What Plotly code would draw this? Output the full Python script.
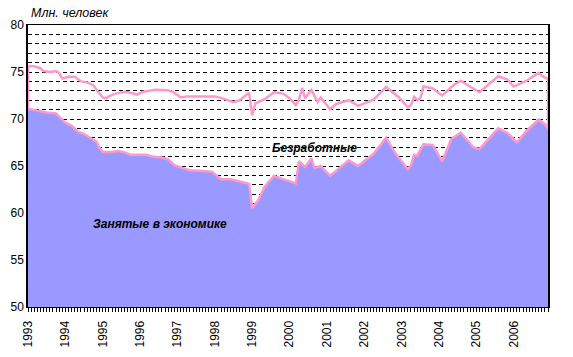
import plotly.graph_objects as go

# Month index: 0 = Jan 1993 ... 167 = Dec 2006
year_labels = [str(y) for y in range(1993, 2007)]

# Employed in the economy (mln people): month index / value at read vertices
employed_month = [0, 2, 4, 6, 9, 10, 12, 14, 16, 18, 20, 22, 23, 24, 27, 29, 31, 33, 38, 40,
                  43, 45, 47, 50, 52, 55, 59, 62, 65, 67, 70, 71, 72, 74, 76, 79, 82, 86, 87, 89,
                  91, 92, 94, 97, 99, 103, 106, 111, 115, 118, 122, 123, 124, 125, 127, 130, 133,
                  136, 139, 143, 145, 151, 154, 157, 160, 164, 166, 167]
employed_value = [71.1, 70.95, 70.8, 70.7, 70.6, 70.3, 69.6, 69.3, 68.65, 68.4, 68.0, 67.6, 66.9,
                  66.5, 66.5, 66.6, 66.45, 66.2, 66.2, 66.0, 65.9, 65.7, 65.1, 64.75, 64.55, 64.5,
                  64.4, 63.6, 63.6, 63.4, 63.2, 63.1, 60.5, 61.4, 62.8, 63.95, 63.6, 63.15, 65.5,
                  64.9, 65.8, 64.8, 65.0, 63.95, 64.5, 65.6, 65.0, 66.3, 68.0, 66.35, 64.65, 65.1,
                  66.2, 66.1, 67.3, 67.25, 65.5, 67.9, 68.55, 67.0, 66.8, 69.0, 68.5, 67.5, 68.7,
                  69.95, 69.45, 69.0]

# Economically active = employed + unemployed (mln people)
total_month = [0, 2, 4, 5, 7, 9, 10, 11, 13, 15, 17, 19, 21, 22, 24, 25, 26, 28, 31, 33, 35, 37,
               39, 41, 45, 47, 49, 51, 55, 60, 62, 66, 68, 71, 72, 73, 76, 79, 82, 84, 86, 87, 88,
               89, 91, 93, 94, 97, 99, 103, 106, 111, 115, 119, 122, 123, 124, 125, 126, 127, 130,
               133, 137, 139, 145, 151, 154, 156, 160, 164, 165, 167]
total_value = [75.65, 75.6, 75.4, 75.1, 75.0, 75.1, 74.9, 74.3, 74.5, 74.5, 74.0, 73.9, 73.6, 73.1,
               72.3, 72.2, 72.4, 72.7, 72.9, 72.8, 72.6, 72.9, 73.0, 73.1, 73.05, 72.8, 72.3, 72.4,
               72.4, 72.4, 72.25, 71.8, 72.0, 72.8, 70.4, 71.65, 72.1, 72.85, 72.7, 72.2, 71.5,
               72.0, 73.3, 72.2, 73.1, 71.8, 72.3, 71.05, 71.6, 72.0, 71.4, 72.05, 73.4, 72.35,
               71.25, 71.5, 72.35, 72.0, 72.2, 73.45, 73.25, 72.5, 73.7, 74.05, 72.85, 74.55,
               74.2, 73.45, 74.05, 74.9, 74.6, 74.25]

BLUE = "#9999FF"
PINK = "#FF99CC"
FONT = "Liberation Sans, Arial, sans-serif"

fig = go.Figure()

fig.add_trace(go.Scatter(
    x=employed_month, y=employed_value, mode="lines",
    fill="tozeroy", fillcolor=BLUE, line=dict(width=0, color=BLUE),
    hoverinfo="skip", showlegend=False))

# outline of the unemployed band (total on top, employed below)
outline_x = total_month + employed_month[::-1] + [total_month[0]]
outline_y = total_value + employed_value[::-1] + [total_value[0]]
fig.add_trace(go.Scatter(
    x=outline_x, y=outline_y, mode="lines",
    line=dict(width=2.5, color=PINK), hoverinfo="skip", showlegend=False))

fig.add_annotation(x=92, y=66.9, xref="x", yref="y", text="<b><i>Безработные</i></b>",
                   showarrow=False, font=dict(family=FONT, size=12, color="black"))
fig.add_annotation(x=42.5, y=58.8, xref="x", yref="y", text="<b><i>Занятые в экономике</i></b>",
                   showarrow=False, font=dict(family=FONT, size=12, color="black"))
fig.add_annotation(x=0, y=1, xref="paper", yref="paper", text="<i>Млн. человек</i>",
                   xanchor="left", yanchor="bottom", xshift=1, yshift=3, showarrow=False,
                   font=dict(family=FONT, size=12.5, color="black"))

fig.update_xaxes(
    range=[0, 167], tickmode="array", automargin=False,
    tickvals=[12 * k for k in range(len(year_labels))], ticktext=year_labels,
    tickangle=-90, ticks="outside", ticklen=4, tickcolor="black", ticklabelstandoff=4,
    minor=dict(dtick=1, tick0=0, ticks="outside", ticklen=4, tickcolor="black", showgrid=False),
    showgrid=False, zeroline=False, showline=True, mirror=True, linecolor="black", linewidth=1,
    tickfont=dict(family=FONT, size=12, color="black"))

fig.update_yaxes(
    range=[50, 80], dtick=5, tick0=50, ticks="", automargin=False,
    showgrid=True, gridcolor="black", gridwidth=1, griddash="4px,3px",
    minor=dict(dtick=1, tick0=50, showgrid=True, gridcolor="black", gridwidth=1, griddash="4px,3px"),
    zeroline=False, showline=True, mirror=True, linecolor="black", linewidth=1.5,
    tickfont=dict(family=FONT, size=12, color="black"))

fig.update_layout(
    width=573, height=357,
    margin=dict(l=28, r=25, t=25, b=50),
    paper_bgcolor="white", plot_bgcolor="white",
    font=dict(family=FONT, size=12, color="black"),
    showlegend=False)

fig.write_html("out.html")
